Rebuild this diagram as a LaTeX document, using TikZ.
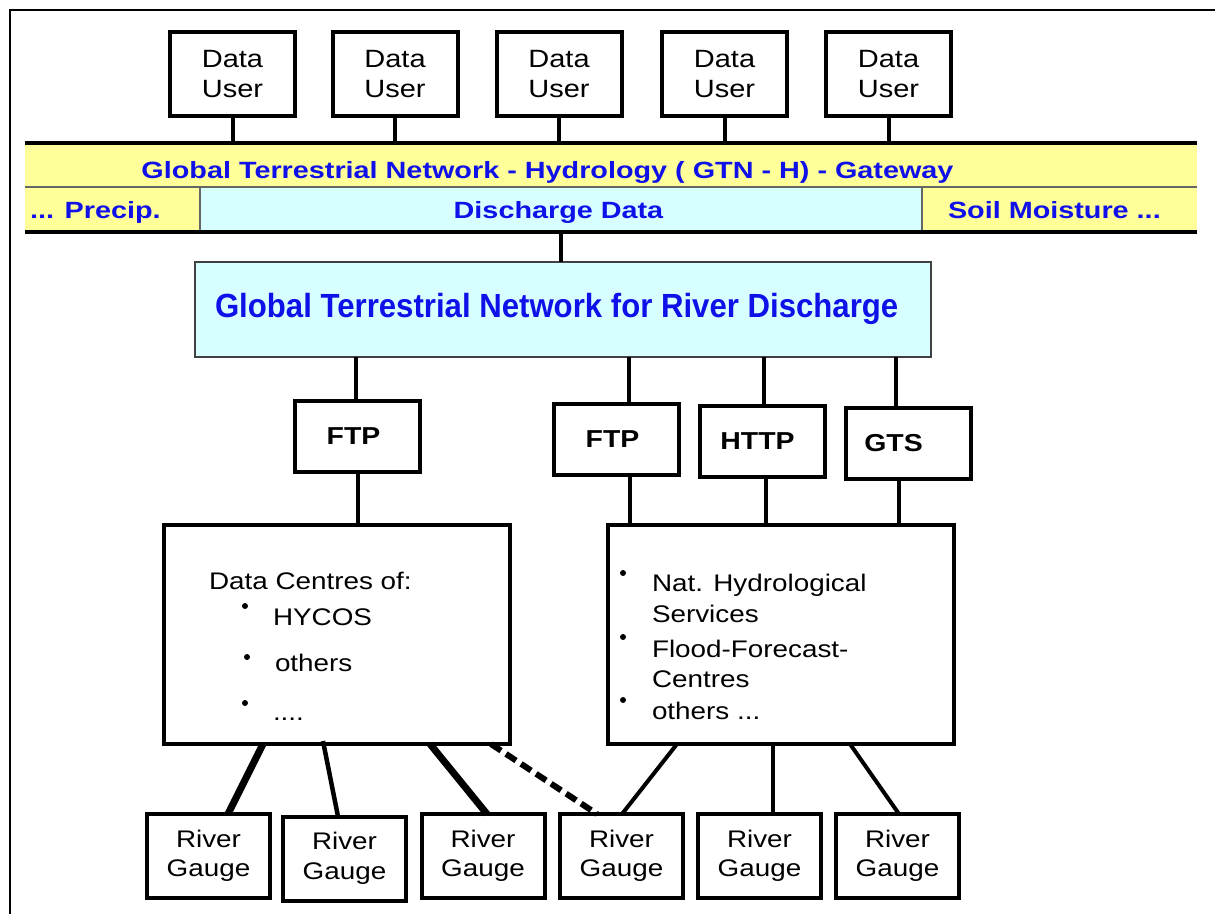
\documentclass[tikz,border=0pt]{standalone}
\usepackage{fontspec}
\setmainfont{Liberation Sans}[FakeStretch=1.16]
\newfontfamily\barfont{Liberation Sans}[FakeStretch=1.225]
\newfontfamily\titlefont{Liberation Sans}[FakeStretch=0.93]
\usetikzlibrary{calc}
\definecolor{barYellow}{HTML}{FFFF99}
\definecolor{barCyan}{HTML}{D7FFFF}
\definecolor{txtBlue}{HTML}{1010E8}
\definecolor{edgeGray}{HTML}{404040}
\tikzset{
  frameline/.style={line width=2.5},
  userbox/.style={draw, line width=4, fill=white, inner sep=0, outer sep=0, minimum width=125, minimum height=84, align=center, font=\fontsize{25}{30}\selectfont},
  protobox/.style={draw, line width=4, fill=white, inner sep=0, outer sep=0, minimum width=125, minimum height=71, font=\fontsize{24.5}{28}\selectfont\bfseries},
  bigbox/.style={draw, line width=4.5, fill=white, inner sep=0, outer sep=0, minimum width=346, minimum height=219},
  gaugebox/.style={draw, line width=4, fill=white, inner sep=0, outer sep=0, minimum width=123, minimum height=84, align=center, font=\fontsize{24}{29.5}\selectfont},
  barcell/.style={inner sep=0, outer sep=0},
  bartext/.style={inner sep=0, outer sep=0, text=txtBlue, font=\fontsize{23.5}{28}\selectfont\barfont\bfseries},
  titletext/.style={inner sep=0, outer sep=0, anchor=base west, text=txtBlue, font=\fontsize{33.5}{38}\selectfont\titlefont\bfseries},
  listtext/.style={inner sep=0, outer sep=0, anchor=base west, font=\fontsize{24}{28}\selectfont},
  bulletdot/.style={circle, fill=black, inner sep=0, minimum size=6},
  conn/.style={line width=4},
  thinsep/.style={line width=1.2, draw=edgeGray!80},
  thickbar/.style={line width=4},
}
\begin{document}
\begin{tikzpicture}[x=1pt,y=-1pt]
\useasboundingbox (0,0) rectangle (1215,914);
% frame
\draw[frameline] (10,914) -- (10,10) -- (1215,10);

% data users
\node[userbox] (u1) at (232.5,74) {Data\\User};
\node[userbox] (u2) at (395,74) {Data\\User};
\node[userbox] (u3) at (559,74) {Data\\User};
\node[userbox] (u4) at (724.5,74) {Data\\User};
\node[userbox] (u5) at (888.5,74) {Data\\User};

% gateway bar
\node[barcell, fill=barYellow, minimum width=1172, minimum height=44] (gw) at (611,165) {};
\node[barcell, fill=barYellow, minimum width=175, minimum height=45] (prec) at (112.5,209.5) {};
\node[barcell, fill=barCyan, minimum width=722, minimum height=45] (dis) at (561,209.5) {};
\node[barcell, fill=barYellow, minimum width=275, minimum height=45] (soil) at (1059.5,209.5) {};
\draw[thinsep] (gw.south west) -- (gw.south east);
\draw[thinsep] (prec.north east) -- (prec.south east);
\draw[thinsep] (dis.north east) -- (dis.south east);
\draw[thickbar] (gw.north west) -- (gw.north east);
\draw[thickbar] (prec.south west) -- (soil.south east);

\node[bartext, anchor=base] (gwt) at (547.5,178) {Global Terrestrial Network - Hydrology ( GTN - H) - Gateway};
\node[bartext, anchor=base west] (prect) at (30,218) {... Precip.};
\node[bartext, anchor=base] (dist) at (558.5,218) {Discharge Data};
\node[bartext, anchor=base west] (soilt) at (948,218) {Soil Moisture ...};

\foreach \u in {u1,u2,u3,u4,u5} {
  \draw[conn] (\u.south) -- (\u.south |- gw.north);
}

% GTN-R
\node[barcell, draw=edgeGray, line width=2, fill=barCyan, minimum width=736, minimum height=95] (gtnr) at (563,309.5) {};
\node[titletext] (gtnrt) at (215,317) {Global Terrestrial Network for River Discharge};
\draw[conn] (dis.south) -- (dis.south |- gtnr.north);

% protocols
\node[protobox] (f1) at (357.5,436) {\hspace*{-8pt}FTP};
\node[protobox] (f2) at (616.5,439.5) {\hspace*{-8pt}FTP};
\node[protobox] (ht) at (762,441) {\hspace*{-9pt}HTTP};
\node[protobox] (gt) at (908.5,443) {\hspace*{-30pt}GTS};

\path ($(f1.north)+(-2,0)$) coordinate (a1);
\path ($(f2.north)+(12,0)$) coordinate (a2);
\path ($(ht.north)+(2,0)$) coordinate (a3);
\path ($(gt.north)+(-13,0)$) coordinate (a4);
\foreach \a in {a1,a2,a3,a4} {
  \draw[conn] (\a) -- (\a |- gtnr.south);
}

% data centres
\node[bigbox] (dcl) at (337,634.5) {};
\node[bigbox] (dcr) at (781,634.5) {};

\path ($(f1.south)+(0,0)$) coordinate (b1);
\path ($(f2.south)+(13,0)$) coordinate (b2);
\path ($(ht.south)+(4,0)$) coordinate (b3);
\path ($(gt.south)+(-10,0)$) coordinate (b4);
\foreach \b in {b1,b2,b3,b4} {
  \draw[conn] (\b) -- (\b |- dcl.north);
}

\node[listtext] (dct) at (209,589) {Data Centres of:};
\node[bulletdot] (dl1) at (245,606) {};
\node[listtext] (hy) at (273,625) {HYCOS};
\node[bulletdot] (dl2) at (247,657) {};
\node[listtext] (ot1) at (275,671) {others};
\node[bulletdot] (dl3) at (245,703) {};
\node[listtext] (dots) at (273,720) {....};

\node[bulletdot] (dr1) at (623,573) {};
\node[listtext] (nat) at (652,591) {Nat. Hydrological};
\node[listtext] (serv) at (652,622) {Services};
\node[bulletdot] (dr2) at (623,637) {};
\node[listtext] (flood) at (652,657) {Flood-Forecast-};
\node[listtext] (cent) at (652,687) {Centres};
\node[bulletdot] (dr3) at (623,700) {};
\node[listtext] (ot2) at (652,719) {others ...};

% gauges
\node[gaugebox] (g1) at (208.5,856) {River\\Gauge};
\node[gaugebox] (g2) at (344.5,858.5) {River\\Gauge};
\node[gaugebox] (g3) at (483,856) {River\\Gauge};
\node[gaugebox] (g4) at (621.5,856) {River\\Gauge};
\node[gaugebox] (g5) at (759.5,856) {River\\Gauge};
\node[gaugebox] (g6) at (897.5,856) {River\\Gauge};

\draw[line width=7] ($(dcl.south west)+(99,0)$) -- ($(g1.north west)+(81,0)$);
\draw[line width=4.5] ($(dcl.south west)+(159,-3)$) -- ($(g2.north west)+(55,0)$);
\draw[line width=7] ($(dcl.south west)+(266,0)$) -- ($(g3.north west)+(65.5,0)$);
\draw[line width=6, dash pattern=on 12 off 6] ($(dcl.south west)+(327,0)$) -- ($(g4.north west)+(37,0)$);
\draw[conn] ($(dcr.south west)+(69,0)$) -- ($(g4.north west)+(62,0)$);
\draw[conn] ($(dcr.south west)+(165,0)$) -- ($(g5.north west)+(75,0)$);
\draw[conn] ($(dcr.south west)+(242,0)$) -- ($(g6.north west)+(63,0)$);
\end{tikzpicture}
\end{document}
